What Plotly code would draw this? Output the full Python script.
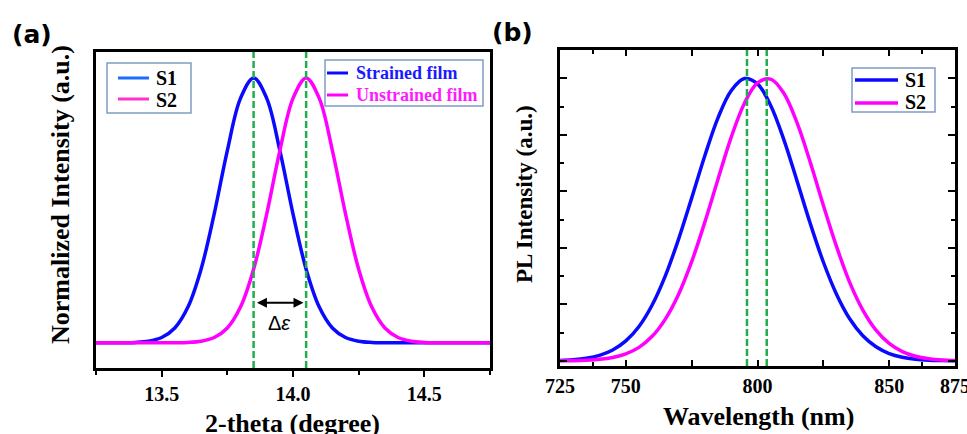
import plotly.graph_objects as go

W, H = 967, 434

# ---------------- data ----------------
xrd_theta = [13.25, 13.30, 13.35, 13.40, 13.45, 13.50, 13.55, 13.60, 13.65, 13.70,
             13.75, 13.80, 13.85, 13.90, 13.95, 14.00, 14.05, 14.10, 14.15, 14.20,
             14.25, 14.30, 14.35, 14.40, 14.45, 14.50, 14.55, 14.60, 14.65, 14.70, 14.75]
xrd_strained = [0, 0, 0.0003, 0.0015, 0.006, 0.020, 0.056, 0.135, 0.278, 0.487,
                0.726, 0.923, 1.0, 0.923, 0.726, 0.487, 0.278, 0.135, 0.056, 0.020,
                0.006, 0.0015, 0.0003, 0, 0, 0, 0, 0, 0, 0, 0]
xrd_unstrained = [0, 0, 0, 0, 0, 0, 0.0003, 0.0015, 0.006, 0.020,
                  0.056, 0.135, 0.278, 0.487, 0.726, 0.923, 1.0, 0.923, 0.726, 0.487,
                  0.278, 0.135, 0.056, 0.020, 0.006, 0.0015, 0.0003, 0, 0, 0, 0]
xrd_peaks = [13.85, 14.05]

pl_nm = [725, 730, 735, 740, 745, 750, 755, 760, 765, 770,
         775, 780, 785, 790, 795, 800, 805, 810, 815, 820,
         825, 830, 835, 840, 845, 850, 855, 860, 865, 870, 875]
pl_s1 = [0.0018, 0.0043, 0.0096, 0.0198, 0.0387, 0.071, 0.122, 0.198, 0.301, 0.430,
         0.576, 0.726, 0.860, 0.956, 0.999, 0.980, 0.904, 0.783, 0.637, 0.487,
         0.350, 0.236, 0.149, 0.089, 0.050, 0.026, 0.0129, 0.006, 0.0026, 0.0011, 0.0004]
pl_s2 = [0.0004, 0.0010, 0.0024, 0.0055, 0.0122, 0.025, 0.048, 0.087, 0.148, 0.235,
         0.351, 0.491, 0.643, 0.791, 0.911, 0.984, 0.997, 0.947, 0.843, 0.704,
         0.551, 0.405, 0.278, 0.180, 0.109, 0.062, 0.033, 0.0163, 0.0076, 0.0033, 0.0014]
pl_peaks = [796, 803.5]

xrd_tickvals = [13.5, 14.0, 14.5]
xrd_ticktext = ["13.5", "14.0", "14.5"]
pl_tickvals = [725, 750, 775, 800, 825, 850, 875]
pl_ticktext = ["725", "750", "", "800", "", "850", "875"]
pl_ytickvals = [0, 0.2, 0.4, 0.6, 0.8, 1.0]

# ---------------- style ----------------
BLUE = "#0a0aff"
MAG = "#ff00ff"
GREEN = "#1fae4b"
SERIF = "Liberation Serif"


def px(x):
    return x / W


def py(y):
    return 1 - y / H


fig = go.Figure()

fig.add_trace(go.Scatter(x=xrd_theta, y=xrd_strained, mode="lines", line=dict(color=BLUE, width=3.5, shape="spline"),
                         xaxis="x", yaxis="y", showlegend=False))
fig.add_trace(go.Scatter(x=xrd_theta, y=xrd_unstrained, mode="lines", line=dict(color=MAG, width=3.5, shape="spline"),
                         xaxis="x", yaxis="y", showlegend=False))
fig.add_trace(go.Scatter(x=pl_nm, y=pl_s1, mode="lines", line=dict(color=BLUE, width=3.5, shape="spline"),
                         xaxis="x2", yaxis="y2", showlegend=False))
fig.add_trace(go.Scatter(x=pl_nm, y=pl_s2, mode="lines", line=dict(color=MAG, width=3.5, shape="spline"),
                         xaxis="x2", yaxis="y2", showlegend=False))

tickfont = dict(family=SERIF, size=20, color="black", weight="bold")
common_line = dict(showline=True, linewidth=3, linecolor="black", showgrid=False, zeroline=False,
                   automargin=False)

fig.update_layout(
    width=W, height=H, margin=dict(l=0, r=0, t=0, b=0, pad=0, autoexpand=False),
    paper_bgcolor="white", plot_bgcolor="white", showlegend=False,
    xaxis=dict(domain=[px(96), px(490)], range=[13.25, 14.75], anchor="y",
               tickvals=xrd_tickvals, ticktext=xrd_ticktext, ticks="outside", ticklen=6, tickwidth=2,
               tickcolor="black", tickfont=tickfont, mirror=True, ticklabeloverflow="allow",
               minor=dict(tickvals=[13.25, 13.75, 14.25, 14.75], ticks="outside", ticklen=4, tickwidth=2, tickcolor="black"),
               **common_line),
    yaxis=dict(domain=[py(368), py(52)], range=[-0.095, 1.098], anchor="x",
               showticklabels=False, ticks="", mirror=True, **common_line),
    xaxis2=dict(domain=[px(560), px(955)], range=[725, 875], anchor="y2",
                tickvals=pl_tickvals, ticktext=pl_ticktext, ticks="inside", ticklen=6, tickwidth=2,
                tickcolor="black", tickfont=tickfont, mirror="allticks", ticklabeloverflow="allow",
                minor=dict(tickvals=[737.5, 862.5], ticks="inside", ticklen=4, tickwidth=2, tickcolor="black"),
                **common_line),
    yaxis2=dict(domain=[py(366), py(50)], range=[-0.018, 1.1], anchor="x2",
                tickvals=pl_ytickvals, showticklabels=False, ticks="inside", ticklen=7, tickwidth=2,
                tickcolor="black", mirror="allticks",
                minor=dict(dtick=0.1, tick0=0, ticks="inside", ticklen=4, tickwidth=2, tickcolor="black"),
                **common_line),
)

shapes = []
for p in xrd_peaks:
    shapes.append(dict(type="line", xref="x", yref="y domain", x0=p, x1=p, y0=0, y1=1,
                       line=dict(color=GREEN, width=2.5, dash="7px,3px"), layer="above"))
for p in pl_peaks:
    shapes.append(dict(type="line", xref="x2", yref="y2 domain", x0=p, x1=p, y0=0, y1=1,
                       line=dict(color=GREEN, width=2.5, dash="7px,3px"), layer="above"))


def rect(x0, y0, x1, y1):
    shapes.append(dict(type="rect", xref="paper", yref="paper", x0=px(x0), x1=px(x1), y0=py(y1), y1=py(y0),
                       line=dict(color="#7f9cc4", width=1.5), fillcolor="rgba(255,255,255,0)", layer="above"))


def seg(x0, x1, y, color, w=3):
    shapes.append(dict(type="line", xref="paper", yref="paper", x0=px(x0), x1=px(x1), y0=py(y), y1=py(y),
                       line=dict(color=color, width=w), layer="above"))


annotations = []


def text(x, y, s, size, color="black", family=SERIF, xanchor="left", angle=0, weight="bold"):
    annotations.append(dict(x=px(x), y=py(y), xref="paper", yref="paper", text=s, showarrow=False,
                            xanchor=xanchor, yanchor="middle", textangle=angle, borderpad=0,
                            font=dict(family=family, size=size, color=color, weight=weight)))


# legend 1 (left panel)
rect(107, 63, 191, 113)
seg(118, 149, 78, "#1a6dff")
seg(118, 149, 99, "#ff33cc")
text(155, 78, "S1", 20)
text(155, 100, "S2", 20)

# legend 2 (left panel)
rect(325, 60, 483, 106)
seg(327, 348, 73, BLUE)
seg(327, 348, 95, MAG)
text(355, 73, "Strained film", 18, color="#1a1aff")
text(355, 95, "Unstrained film", 18, color="#ff1aff")

# legend 3 (right panel)
rect(852, 68, 935, 112)
seg(855, 898, 80, BLUE, 3.5)
seg(855, 898, 103, MAG, 3.5)
text(904, 80, "S1", 20)
text(904, 102, "S2", 20)

# panel labels
text(32, 34, "(a)", 25, family="DejaVu Sans", xanchor="center")
text(512, 32, "(b)", 25, family="DejaVu Sans", xanchor="center")

# axis titles
text(60, 195, "Normalized Intensity (a.u.)", 26, xanchor="center", angle=-90)
text(525, 194, "PL Intensity (a.u.)", 23, xanchor="center", angle=-90)
text(292, 423, "2-theta (degree)", 26, xanchor="center")
text(758, 416, "Wavelength (nm)", 26, xanchor="center")

# Δε arrow + label
annotations.append(dict(x=14.04, y=0.151, ax=13.857, ay=0.151, xref="x", yref="y", axref="x", ayref="y",
                        text="", showarrow=True, arrowhead=2, arrowside="end+start", arrowwidth=2,
                        arrowsize=1, arrowcolor="black", standoff=0, startstandoff=0))
annotations.append(dict(x=13.95, y=0.075, xref="x", yref="y", text="Δ<i>ε</i>", showarrow=False,
                        font=dict(family="Liberation Sans", size=20, color="black")))

fig.update_layout(shapes=shapes, annotations=annotations)

fig.write_html("out.html")
